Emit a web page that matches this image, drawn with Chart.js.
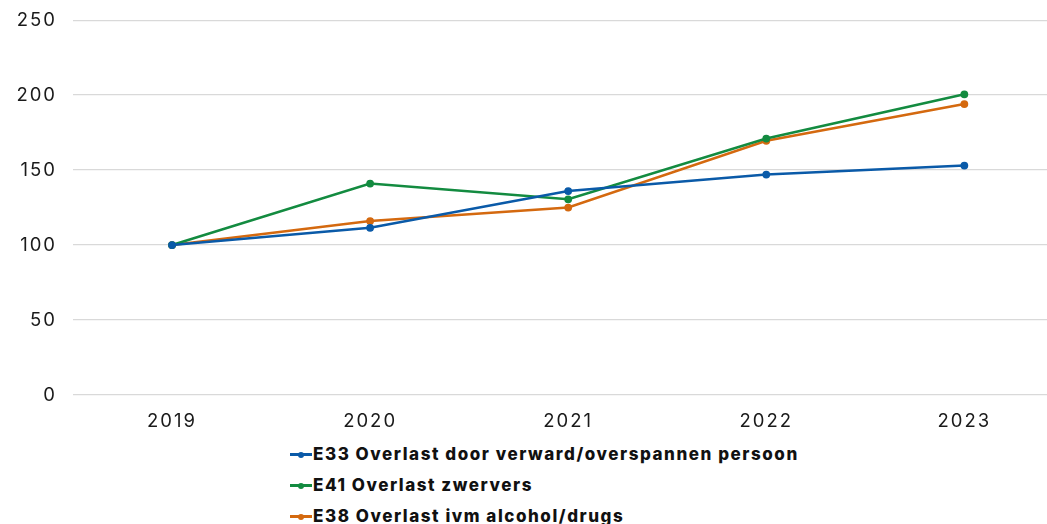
<!DOCTYPE html>
<html>
<head>
<meta charset="utf-8">
<script src="https://cdn.jsdelivr.net/npm/chart.js@4/dist/chart.umd.min.js"></script>
<style>
  html, body { margin: 0; padding: 0; background: #fff; overflow: hidden; }
  #wrap { position: absolute; left: 0; top: -7px; width: 1069px; height: 444px; }
  #legend { position: absolute; left: 290px; top: 439px; font-family: Inter, "Noto Sans", sans-serif;
            font-weight: 800; font-size: 17px; letter-spacing: 1.55px; color: #111; }
  #legend div { height: 31px; line-height: 31px; display: flex; align-items: center; white-space: nowrap; }
  #legend .mk { position: relative; width: 22px; height: 3px; margin-right: 1px; }
  #legend .mk i { position: absolute; left: 8px; top: -1.5px; width: 6px; height: 6px; border-radius: 50%; }
</style>
</head>
<body>
<div id="wrap"><canvas id="chart"></canvas></div>
<div id="legend"></div>
<script>
const years = ['2019', '2020', '2021', '2022', '2023'];
const seriesNames = [
  'E33 Overlast door verward/overspannen persoon',
  'E41 Overlast zwervers',
  'E38 Overlast ivm alcohol/drugs'
];
const verward = [100, 111.5, 136, 147, 153];
const zwervers = [100, 141, 130.5, 171, 200.5];
const alcohol = [100, 116, 125, 169.5, 194];
const colors = ['#0a5aa8', '#138b40', '#d4690f'];

const ctx = document.getElementById('chart');

const datasets = [verward, zwervers, alcohol].map((vals, i) => ({
  label: seriesNames[i],
  data: vals,
  borderColor: colors[i],
  backgroundColor: colors[i],
  borderWidth: 2.6,
  pointRadius: 2.6,
  pointHoverRadius: 3,
  tension: 0,
}));

const tickFont = { family: 'Inter, "Noto Sans", sans-serif', size: 18.5 };

// canvas letter spacing for the wide tick digits
const spacing = {
  id: 'spacing',
  beforeUpdate: (c) => { c.ctx.letterSpacing = '2px'; },
  beforeDraw: (c) => { c.ctx.letterSpacing = '2px'; },
};

const chart = new Chart(ctx, {
  type: 'line',
  data: { labels: years, datasets: datasets },
  plugins: [spacing],
  options: {
    responsive: true,
    maintainAspectRatio: false,
    animation: false,
    layout: { padding: { top: 10, right: 0, left: 0, bottom: 0 } },
    plugins: { legend: { display: false }, tooltip: { enabled: false } },
    scales: {
      x: {
        offset: true,
        grid: { display: false, drawTicks: false },
        border: { display: false },
        ticks: { color: '#1a1a1a', font: tickFont, padding: 15, maxRotation: 0 },
        afterFit: (s) => { s.height = 42; },
      },
      y: {
        min: 0,
        max: 250,
        grid: { color: '#d9d9d9', lineWidth: 1.2, drawTicks: false },
        border: { display: false },
        ticks: { stepSize: 50, color: '#1a1a1a', font: tickFont, padding: 16 },
        afterFit: (s) => { s.width = 73; },
      },
    },
  },
});

const legendEl = document.getElementById('legend');
chart.data.datasets.forEach((ds) => {
  const row = document.createElement('div');
  row.innerHTML = '<span class="mk" style="background:' + ds.borderColor + '"><i style="background:' +
    ds.borderColor + '"></i></span>' + ds.label;
  legendEl.appendChild(row);
});
</script>
</body>
</html>
